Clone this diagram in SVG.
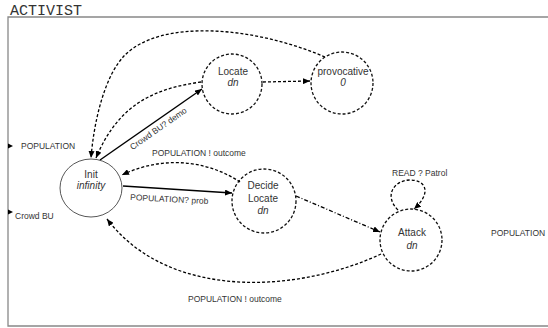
<svg xmlns="http://www.w3.org/2000/svg" width="548" height="328" viewBox="0 0 548 328">
  <style>
    .frame { fill: none; stroke: #888; stroke-width: 1.3; }
    .title { font-family: "Liberation Mono", monospace; font-size: 15px; fill: #333; }
    .state { fill: none; stroke: #111; stroke-width: 1.3; stroke-dasharray: 3 2; }
    .init { fill: none; stroke: #444; stroke-width: 0.9; }
    .name { font-family: "Liberation Sans", Arial, sans-serif; font-size: 10px; fill: #333; text-anchor: middle; }
    .val { font-style: italic; }
    .lbl { font-family: "Liberation Sans", Arial, sans-serif; font-size: 8.5px; fill: #333; }
    .solid { fill: none; stroke: #000; stroke-width: 1.5; marker-end: url(#arr); }
    .dash { fill: none; stroke: #000; stroke-width: 1.3; stroke-dasharray: 3 2; marker-end: url(#arr); }
    .dashdot { fill: none; stroke: #000; stroke-width: 1.3; stroke-dasharray: 4 2 1 2; marker-end: url(#arr); }
  </style>
  <defs>
    <marker id="arr" markerUnits="userSpaceOnUse" markerWidth="8" markerHeight="6" refX="7" refY="3" orient="auto">
      <path d="M0,0 L7,3 L0,6 z" fill="#000"/>
    </marker>
  </defs>

  <!-- process frame -->
  <text class="title" x="10" y="15">ACTIVIST</text>
  <path class="frame" d="M548 17 L8 17 L8 326 L548 326"/>

  <!-- channel ports -->
  <g id="port-population-in">
    <path d="M8 143.5 L13 146 L8 148.5 z" fill="#000"/>
    <text class="lbl" x="21" y="149">POPULATION</text>
  </g>
  <g id="port-crowd">
    <path d="M8 209.5 L13 212 L8 214.5 z" fill="#000"/>
    <text class="lbl" x="15" y="219">Crowd BU</text>
  </g>
  <g id="port-population-out">
    <text class="lbl" x="491" y="236">POPULATION</text>
  </g>

  <!-- transitions -->
  <g id="connectors">
    <path class="solid" d="M100 160 L202 89"/>
    <path class="dash" d="M201 82 C160 88, 120 100, 96 158"/>
    <path class="dash" d="M325 57 C250 25, 160 20, 125 55 C105 75, 94 120, 91 158"/>
    <path class="dash" d="M263 82 L310 81"/>
    <path class="dash" d="M240 182 C215 165, 170 152, 122 175"/>
    <path class="solid" d="M123 186 L232 193"/>
    <path class="dashdot" d="M296 196 L380 232"/>
    <path class="dash" d="M381 254 C300 292, 170 302, 107 219"/>
    <path class="dash" d="M398 210 C383 195, 395 180, 410 180 C426 180, 432 193, 414 209"/>

    <text class="lbl" transform="translate(160 131) rotate(-35)" text-anchor="middle">Crowd BU? demo</text>
    <text class="lbl" x="152" y="156">POPULATION ! outcome</text>
    <text class="lbl" transform="translate(130 200) rotate(3)">POPULATION? prob</text>
    <text class="lbl" x="392" y="176">READ ? Patrol</text>
    <text class="lbl" x="188" y="302">POPULATION ! outcome</text>
  </g>

  <!-- states -->
  <g id="init">
    <ellipse class="init" cx="91" cy="188" rx="31" ry="29"/>
    <text class="name" x="91" y="178">Init</text>
    <text class="name val" x="91" y="189">infinity</text>
  </g>
  <g id="locate">
    <circle class="state" cx="232" cy="84" r="30"/>
    <text class="name" x="233" y="75">Locate</text>
    <text class="name val" x="233" y="86">dn</text>
  </g>
  <g id="provocative">
    <circle class="state" cx="342" cy="83" r="31"/>
    <text class="name" x="343" y="75">provocative</text>
    <text class="name val" x="343" y="86">0</text>
  </g>
  <g id="decide-locate">
    <circle class="state" cx="264" cy="201" r="32"/>
    <text class="name" x="263" y="189">Decide</text>
    <text class="name" x="263" y="202">Locate</text>
    <text class="name val" x="263" y="214">dn</text>
  </g>
  <g id="attack">
    <circle class="state" cx="411" cy="240" r="31"/>
    <text class="name" x="412" y="236">Attack</text>
    <text class="name val" x="412" y="249">dn</text>
  </g>
</svg>
